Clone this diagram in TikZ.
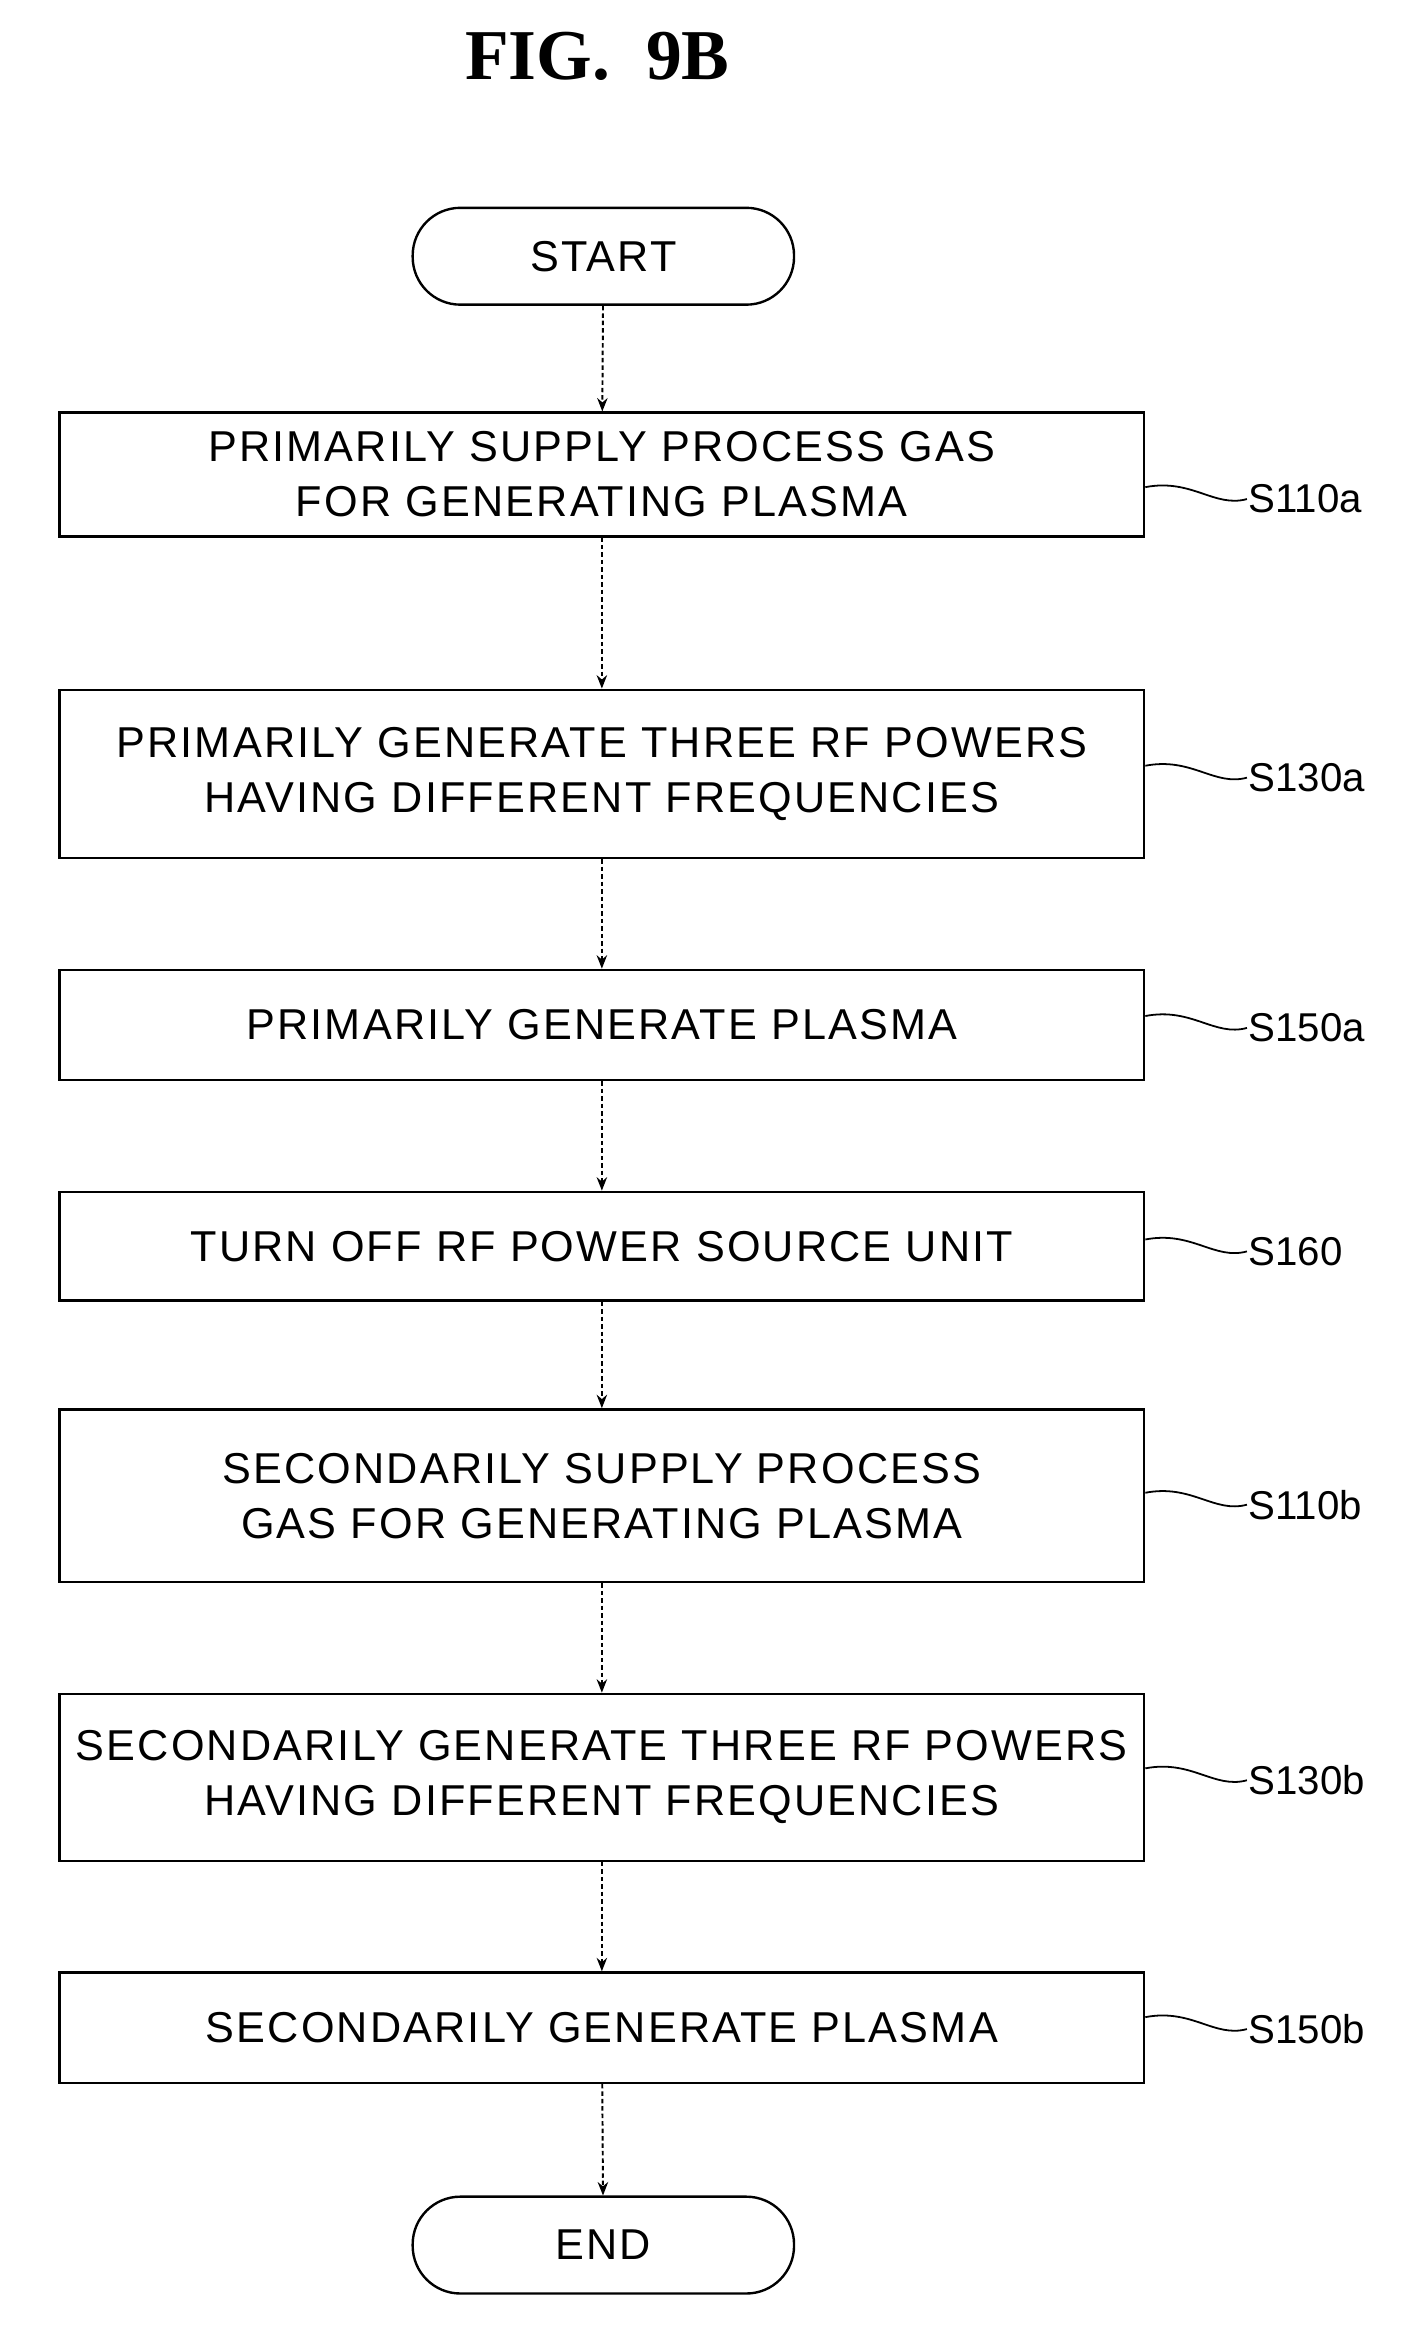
\documentclass[tikz,border=0pt]{standalone}
\usepackage{fontspec}
\setmainfont{Liberation Sans}[LetterSpace=5]
\newfontfamily\lblfont{Liberation Sans}
\newfontfamily\titlefont{Liberation Serif}
\usetikzlibrary{arrows.meta}
\begin{document}
\begin{tikzpicture}[x=1pt,y=-1pt,
  box/.style={draw,line width=1.6pt,minimum width=728pt,align=center,font=\fontsize{29}{37}\selectfont,inner sep=0pt},
  term/.style={draw,line width=1.6pt,rounded corners=32pt,minimum width=256pt,minimum height=65pt,font=\fontsize{29}{37}\selectfont},
  arr/.style={line width=1.3pt,dash pattern=on 3pt off 2pt,-{Stealth[length=9pt,width=7pt]}},
  lbl/.style={font=\lblfont\fontsize{27}{30}\selectfont,anchor=west,inner sep=1pt},
  lead/.style={line width=1.2pt}]
\useasboundingbox (0,0) rectangle (941,1562);
\node[font=\titlefont\bfseries\fontsize{48}{50}\selectfont] (title) at (401,38) {FIG.\ \ 9B};
\node[term] (start) at (405,172) {START};
\node[box,minimum height=83pt] (b1) at (404,318.5) {PRIMARILY SUPPLY PROCESS GAS\\FOR GENERATING PLASMA};
\node[box,minimum height=113pt] (b2) at (404,519.5) {PRIMARILY GENERATE THREE RF POWERS\\HAVING DIFFERENT FREQUENCIES};
\node[box,minimum height=74pt] (b3) at (404,688) {PRIMARILY GENERATE PLASMA};
\node[box,minimum height=73pt] (b4) at (404,836.5) {TURN OFF RF POWER SOURCE UNIT};
\node[box,minimum height=116pt] (b5) at (404,1004) {SECONDARILY SUPPLY PROCESS\\GAS FOR GENERATING PLASMA};
\node[box,minimum height=112pt] (b6) at (404,1193) {SECONDARILY GENERATE THREE RF POWERS\\HAVING DIFFERENT FREQUENCIES};
\node[box,minimum height=74pt] (b7) at (404,1361) {SECONDARILY GENERATE PLASMA};
\node[term] (end) at (405,1507) {END};
\draw[arr] (start) -- (b1);
\draw[arr] (b1) -- (b2);
\draw[arr] (b2) -- (b3);
\draw[arr] (b3) -- (b4);
\draw[arr] (b4) -- (b5);
\draw[arr] (b5) -- (b6);
\draw[arr] (b6) -- (b7);
\draw[arr] (b7) -- (end);
\foreach \b/\t/\y in {b1/S110a/335,b2/S130a/522,b3/S150a/690,b4/S160/840,b5/S110b/1010,b6/S130b/1195,b7/S150b/1362}{
  \node[lbl] (l\b) at (837,\y) {\t};
  \draw[lead] (\b.east |- 0,\y-8) .. controls (800,\y-14) and (815,\y+6) .. (l\b.west);
}
\end{tikzpicture}
\end{document}
